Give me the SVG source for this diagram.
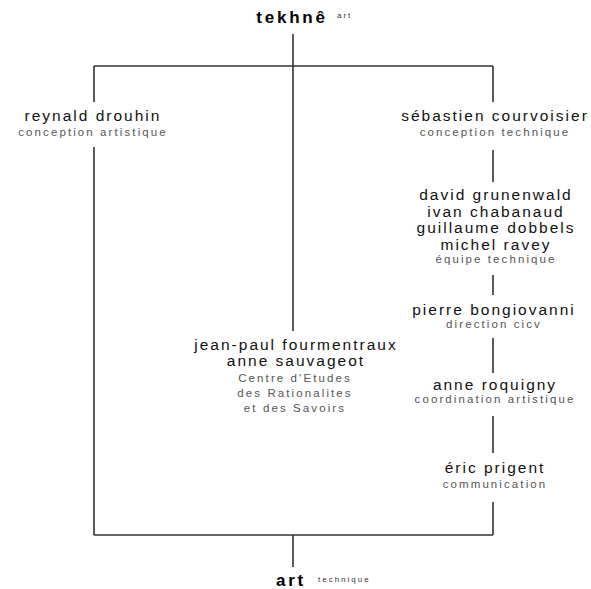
<svg xmlns="http://www.w3.org/2000/svg" width="591" height="589" viewBox="0 0 591 589">
<style>
text{font-family:"Liberation Sans",Arial,sans-serif;text-anchor:middle}
.name{font-size:15.5px;fill:#111;letter-spacing:2px}
.role{font-size:11.5px;fill:#555;letter-spacing:2.1px}
.title{font-size:17px;font-weight:bold;fill:#000;letter-spacing:2.8px}
.small{font-size:8px;fill:#333;letter-spacing:2px;text-anchor:start}
.ln{stroke:#333;stroke-width:1.6;fill:none}
</style>
<rect width="591" height="589" fill="#fff"/>
<g id="connectors">
<path class="ln" d="M293,34V331"/>
<path class="ln" d="M94,66H493"/>
<path class="ln" d="M94,66V102M94,147V535"/>
<path class="ln" d="M493,66V102M493,150V182M493,275V295M493,338V373M493,416V453M493,502V535"/>
<path class="ln" d="M94,535H493"/>
<path class="ln" d="M293,535V567"/>
</g>
<g id="tekhne">
<text class="title" x="292" y="23">tekhnê</text>
<text class="small" x="337" y="18">art</text>
</g>
<g id="art">
<text class="title" x="291" y="586">art</text>
<text class="small" x="318" y="582">technique</text>
</g>
<g id="reynald">
<text class="name" x="93" y="121">reynald drouhin</text>
<text class="role" x="93" y="136">conception artistique</text>
</g>
<g id="sebastien">
<text class="name" x="495" y="121">sébastien courvoisier</text>
<text class="role" x="495" y="136">conception technique</text>
</g>
<g id="equipe">
<text class="name" x="496" y="200">david grunenwald</text>
<text class="name" x="496" y="216.5">ivan chabanaud</text>
<text class="name" x="496" y="233">guillaume dobbels</text>
<text class="name" x="496" y="249.5">michel ravey</text>
<text class="role" x="496" y="263">équipe technique</text>
</g>
<g id="pierre">
<text class="name" x="494" y="315">pierre bongiovanni</text>
<text class="role" x="494" y="328">direction cicv</text>
</g>
<g id="anne-roquigny">
<text class="name" x="495" y="390">anne roquigny</text>
<text class="role" x="495" y="403">coordination artistique</text>
</g>
<g id="eric">
<text class="name" x="495" y="473">éric prigent</text>
<text class="role" x="495" y="488">communication</text>
</g>
<g id="jean-paul">
<text class="name" x="296" y="349.5">jean-paul fourmentraux</text>
<text class="name" x="296" y="366">anne sauvageot</text>
<text class="role" x="295" y="381.5">Centre d'Etudes</text>
<text class="role" x="295" y="396.5">des Rationalites</text>
<text class="role" x="295" y="411.5">et des Savoirs</text>
</g>
</svg>
